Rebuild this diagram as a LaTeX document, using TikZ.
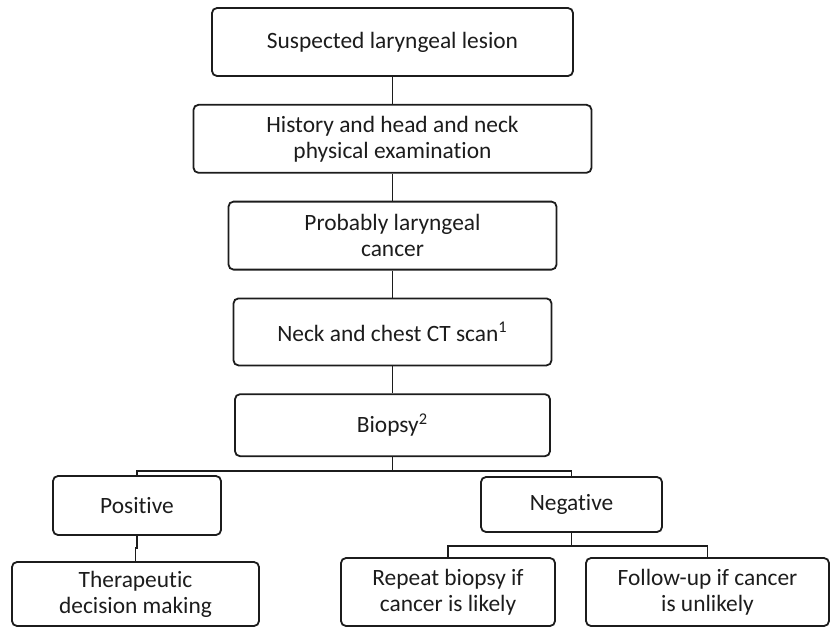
\documentclass[tikz,border=0pt]{standalone}
\usepackage{fontspec}
\setmainfont{Carlito}[Ligatures={NoCommon}]
\usepackage{tikz}
\usetikzlibrary{positioning}
\definecolor{ink}{HTML}{1C1C1C}

\begin{document}
\begin{tikzpicture}[x=0.5pt,y=-0.5pt,node distance=13.5pt,
    flowbox/.style={rounded corners=2.5pt,draw=ink,text=ink,line width=0.9pt,align=center,inner sep=0pt,font=\fontsize{11.7}{13}\selectfont},
    link/.style={draw=ink,line width=0.9pt}]
        \useasboundingbox (0,0) rectangle (830,627);
        % main column
        \node[flowbox,minimum width=180.5pt,minimum height=34pt] (lesion) at (392.5,42) {Suspected laryngeal lesion};
        \node[flowbox,minimum width=199pt,minimum height=34pt,below=of lesion] (exam) {History and head and neck\\physical examination};
        \node[flowbox,minimum width=164pt,minimum height=34pt,below=of exam] (cancer) {Probably laryngeal\\cancer};
        \node[flowbox,minimum width=159pt,minimum height=33.5pt,below=of cancer] (ctscan) {Neck and chest CT scan\textsuperscript{1}};
        \node[flowbox,minimum width=157.5pt,minimum height=31pt,below=of ctscan] (biopsy) {Biopsy\textsuperscript{2}};
        % results
        \node[flowbox,minimum width=84pt,minimum height=29.5pt] (pos) at (137,505.5) {Positive};
        \node[flowbox,minimum width=90.5pt,minimum height=27.5pt] (neg) at (571.5,504.5) {Negative};
        \node[flowbox,minimum width=123.5pt,minimum height=32pt] (therapy) at (135.5,594) {Therapeutic\\decision making};
        \node[flowbox,minimum width=107pt,minimum height=34pt] (rebiopsy) at (448,592) {Repeat biopsy if\\cancer is likely};
        \node[flowbox,minimum width=121.5pt,minimum height=34pt] (followup) at (707.5,592) {Follow-up if cancer\\is unlikely};
        \coordinate[below=7pt of biopsy] (split);
        \coordinate[below=6pt of pos] (posjog);
        \coordinate[below=6.5pt of neg] (negsplit);
        \draw[link] (lesion) -- (exam);
        \draw[link] (exam) -- (cancer);
        \draw[link] (cancer) -- (ctscan);
        \draw[link] (ctscan) -- (biopsy);
        \draw[link] (biopsy) -- (split);
        \draw[link] (pos.north) |- (split) -| (neg.north);
        \draw[link] (pos.south) -- (posjog) -| (therapy.north);
        \draw[link] (neg.south) -- (negsplit);
        \draw[link] (rebiopsy.north) |- (negsplit) -| (followup.north);
      \end{tikzpicture}
\end{document}
